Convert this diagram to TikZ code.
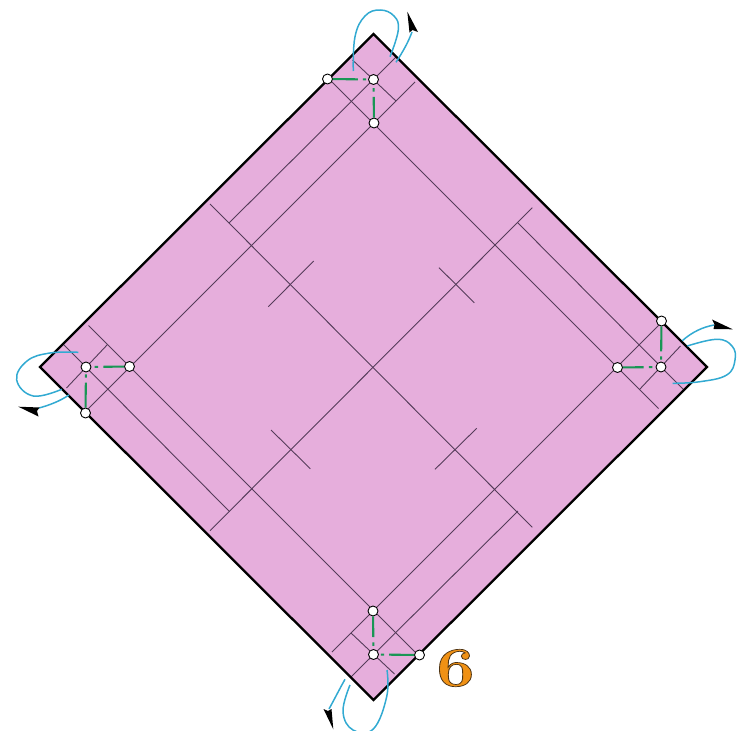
\documentclass[tikz,border=0pt]{standalone}
\usepackage{xcolor}
\usepackage{tikz}
\usetikzlibrary{calc}
\definecolor{paper}{RGB}{230,174,220}
\definecolor{crease}{RGB}{85,60,90}
\definecolor{foldgreen}{RGB}{25,150,85}
\definecolor{arcblue}{RGB}{50,170,210}
\definecolor{steporange}{RGB}{240,145,20}
\tikzset{
  creaseline/.style={color=crease, line width=0.9pt},
  foldline/.style={color=foldgreen, line width=2.1pt},
  cornerdot/.style={circle, draw=black, fill=white, line width=0.9pt, inner sep=0pt, minimum size=10pt},
  arcline/.style={color=arcblue, line width=1.5pt},
  archead/.style={fill=black}
}

\begin{document}
\begin{tikzpicture}[x=1pt, y=-1pt]
  \useasboundingbox (0,0) rectangle (748,731);
  % Paper square
  \fill[paper] (373.5,34) -- (707,367) -- (373.5,700) -- (40,367) -- cycle;
  % Center creases
  \draw[creaseline] (210,204) -- (532.3,527.3);
  \draw[creaseline] (210,530.7) -- (532.3,207.7);
  % Short ticks
  \draw[creaseline] (268.3,306.7) -- (313.7,261);
  \draw[creaseline] (439,267.7) -- (474.3,302.7);
  \draw[creaseline] (271,430) -- (310.3,468.7);
  \draw[creaseline] (476.7,428.3) -- (435,469.3);
  % Side creases, one side turned four times
  \foreach \ang in {0,-90,-180,-270} {
    \begin{scope}[shift={(373.5,367)}, rotate=\ang]
      \draw[creaseline] (-287.5,44) -- (41.5,-285);
      \draw[creaseline] (-144.5,-144) -- (22.5,-310);
      \draw[creaseline] (-21,-307) -- (22.5,-266);
    \end{scope}
  }
  % Outline
  \draw[black, line width=2.3pt, line join=miter] (373.5,34) -- (707,367) -- (373.5,700) -- (40,367) -- cycle;
  % Corner points
  \foreach \ang in {0,-90,-180,-270} {
    \begin{scope}[shift={(373.5,367)}, rotate=\ang]
      \node[cornerdot] (side\ang) at (-46,-288) {};
      \node[cornerdot] (mid\ang) at (0,-287.5) {};
      \node[cornerdot] (low\ang) at (0.5,-244) {};
    \end{scope}
  }
  % Valley folds
  \foreach \ang in {0,-90,-180,-270} {
    \draw[foldline] (side\ang) -- ($(side\ang)!0.66!(mid\ang)$);
    \draw[foldline] ($(side\ang)!0.77!(mid\ang)$) -- ($(side\ang)!0.84!(mid\ang)$);
    \draw[foldline] (low\ang) -- ($(low\ang)!0.6!(mid\ang)$);
    \draw[foldline] ($(low\ang)!0.72!(mid\ang)$) -- ($(low\ang)!0.8!(mid\ang)$);
  }
  % Top arc
  \draw[arcline] plot[smooth, tension=0.7] coordinates {(353.3,71) (355,36.7) (365,16) (380,10) (394,16) (398.3,30) (390,56.7)};
  \draw[arcline] (396,62.3) .. controls (402,53) and (408,43) .. (412,32);
  \fill[archead] (407.3,11.7) -- (418,32) -- (412.5,30) -- (409.5,32.5) -- cycle;
  % Right arc
  \draw[arcline] plot[smooth, tension=0.7] coordinates {(672.7,383.3) (700,381.7) (726.7,375) (735,360) (732,346) (716.7,339.3) (687.3,346)};
  \draw[arcline] (682.3,340.7) .. controls (692,332) and (703,327) .. (714,325);
  \fill[archead] (732.7,329.3) -- (712,319.5) -- (714.5,324.5) -- (713.5,329) -- cycle;
  % Bottom arc
  \draw[arcline] plot[smooth, tension=0.7] coordinates {(387,670) (386.7,696.7) (373.3,729) (353,730) (343,711.7) (350,685)};
  \draw[arcline] (345,679.3) .. controls (339,690) and (334,700) .. (329,709);
  \fill[archead] (333.3,729.3) -- (323.5,709) -- (328,711) -- (331.5,709) -- cycle;
  % Left arc
  \draw[arcline] plot[smooth, tension=0.7] coordinates {(78.3,352.3) (50,353) (27,361) (16.7,380) (33.3,396) (61.7,389.3)};
  \draw[arcline] (69,395) .. controls (60,401) and (50,405) .. (39,408);
  \fill[archead] (18.3,406.7) -- (38.5,416.5) -- (37,411) -- (39.5,407.5) -- cycle;
  % Step number
  \node[font=\bfseries\fontsize{56}{56}\selectfont, text=steporange, xscale=1.22] (num) at (455.5,668)
    {\special{pdf:code 2 Tr 0.7 w 0.3 0.2 0.08 RG}6\special{pdf:code 0 Tr}};
\end{tikzpicture}
\end{document}
